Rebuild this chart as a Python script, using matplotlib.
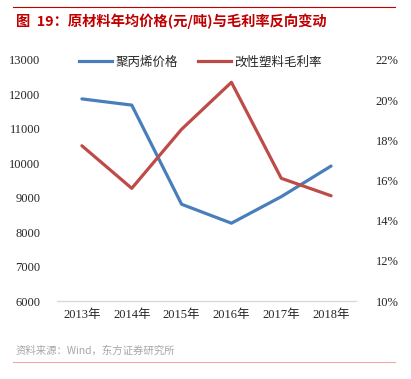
import matplotlib
matplotlib.use("Agg")
import matplotlib.pyplot as plt
from matplotlib.lines import Line2D

plt.rcParams['font.family'] = ['Liberation Serif', 'Noto Sans CJK SC', 'DejaVu Sans']

# 数据
years = ['2013年', '2014年', '2015年', '2016年', '2017年', '2018年']
pp_price = [11870, 11690, 8810, 8260, 9030, 9920]          # 聚丙烯价格 (元/吨)
gross_margin = [17.73, 15.61, 18.55, 20.89, 16.11, 15.24]  # 改性塑料毛利率 (%)

left_ticks = [6000, 7000, 8000, 9000, 10000, 11000, 12000, 13000]
right_ticks = [10, 12, 14, 16, 18, 20, 22]

blue = '#4A7EBB'
red = '#BE4B48'
cjk = ['Noto Sans CJK SC', 'DejaVu Sans']

fig = plt.figure(figsize=(4.11, 3.79), dpi=100)
ax = fig.add_axes([57 / 411, 1 - 301 / 379, 299 / 411, 241 / 379])
ax2 = ax.twinx()

x = list(range(len(years)))
ax.plot(x, pp_price, color=blue, lw=2.3, solid_capstyle='round')
ax2.plot(x, gross_margin, color=red, lw=2.3, solid_capstyle='round')

ax.set_xlim(-0.5, len(years) - 0.5)
ax.set_ylim(6000, 13000)
ax2.set_ylim(10, 22)
ax.set_yticks(left_ticks)
ax.set_yticklabels([str(v) for v in left_ticks])
ax2.set_yticks(right_ticks)
ax2.set_yticklabels([f'{v}%' for v in right_ticks])
ax.set_xticks(x)
ax.set_xticklabels(years)

for a in (ax, ax2):
    for s in a.spines.values():
        s.set_visible(False)
    a.tick_params(length=0, labelsize=9, colors='#262626')
ax.spines['bottom'].set_visible(True)
ax.spines['bottom'].set_color('#D9D9D9')
ax.spines['bottom'].set_linewidth(1.0)
ax.tick_params(axis='y', pad=12)
ax2.tick_params(axis='y', pad=14)
ax.tick_params(axis='x', pad=6)

handles = [Line2D([], [], color=blue, lw=2.3),
           Line2D([], [], color=red, lw=2.3)]
ax.legend(handles, ['聚丙烯价格', '改性塑料毛利率'], loc='upper center',
          bbox_to_anchor=(0.48, 1.065), ncol=2, frameon=False,
          prop={'family': cjk, 'size': 9}, handlelength=2.6,
          handletextpad=0.3, columnspacing=1.6, labelcolor='#262626')

# 标题与来源
fig.add_artist(Line2D([13 / 411, 395 / 411], [1 - 7 / 379, 1 - 7 / 379],
                      color='#C00000', lw=0.8))
fig.text(16 / 411, 1 - 21 / 379, '图  19：原材料年均价格(元/吨)与毛利率反向变动',
         color='#C00000', fontsize=10.3, fontweight='bold', family=cjk,
         va='center', ha='left')
fig.text(16 / 411, 1 - 351 / 379, '资料来源：Wind，东方证券研究所',
         color='#A6A6A6', fontsize=7.5, family=cjk, va='center', ha='left')
fig.add_artist(Line2D([13 / 411, 395 / 411], [1 - 362 / 379, 1 - 362 / 379],
                      color='#F4A6A6', lw=0.8))

fig.savefig('out.png', dpi=100)
